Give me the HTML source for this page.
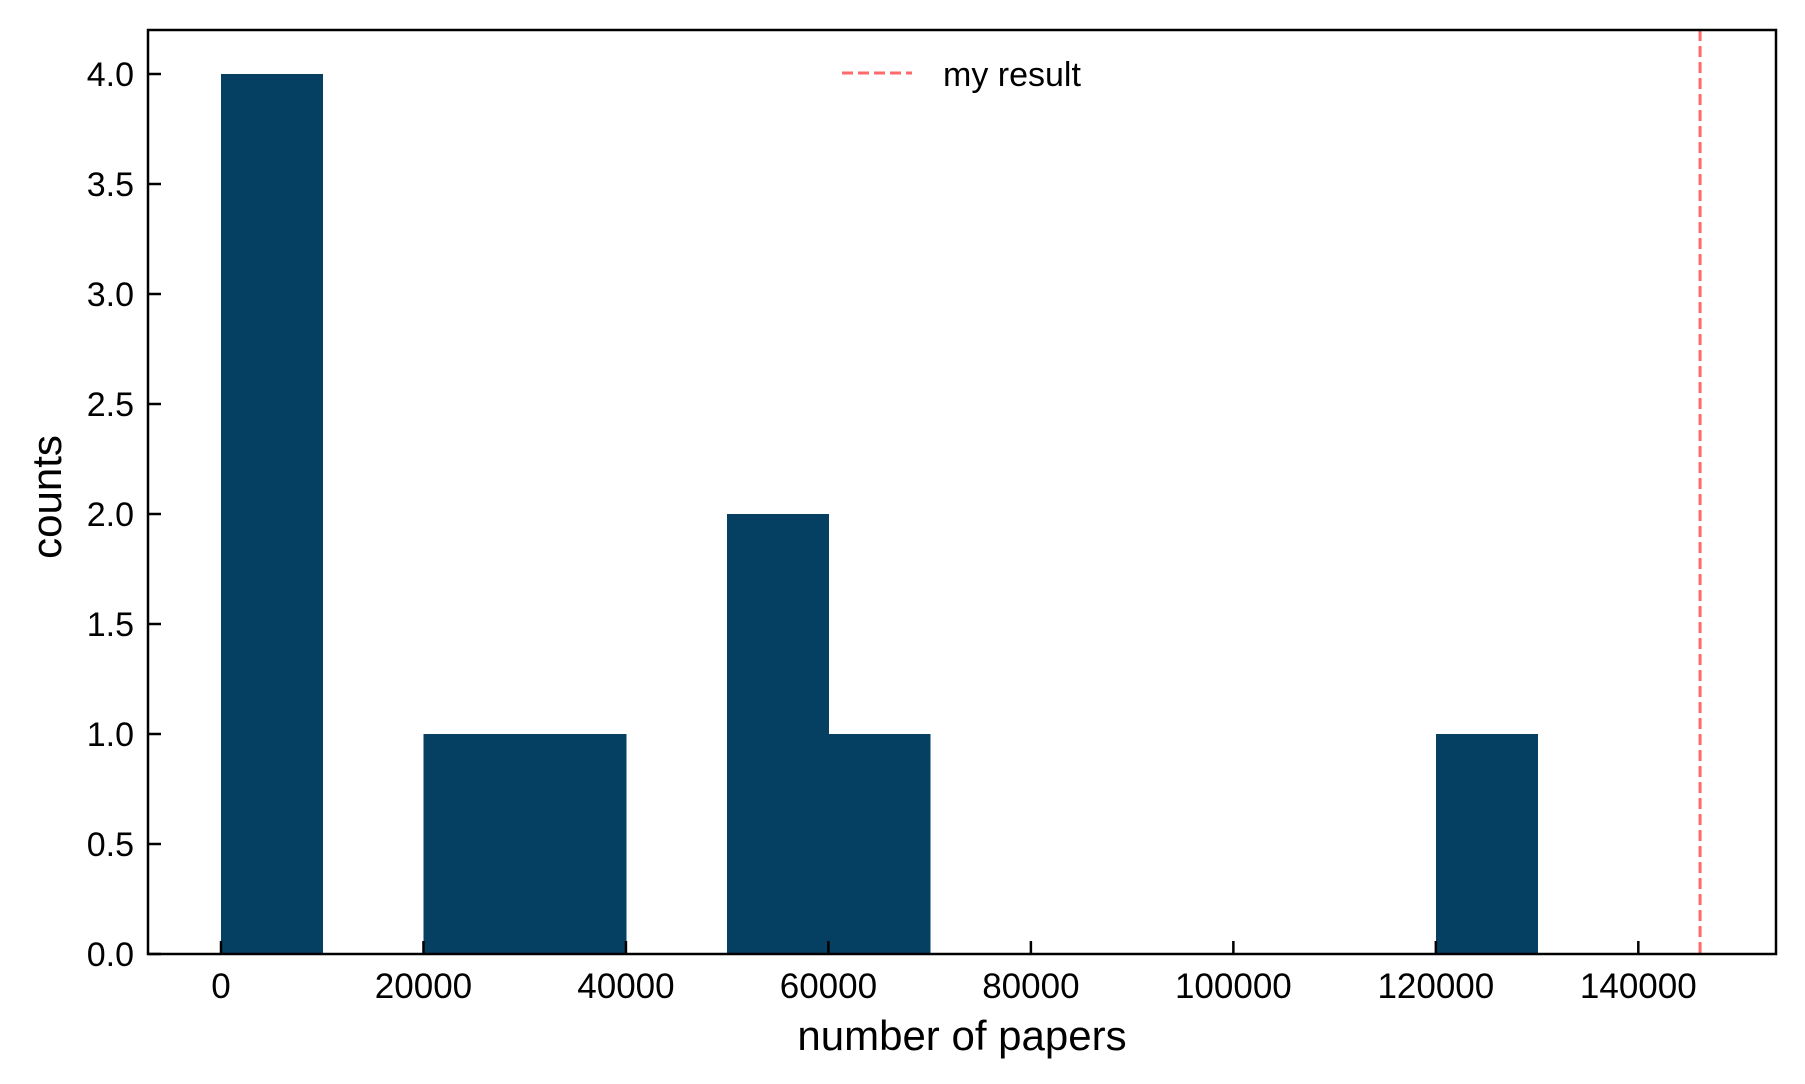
<!DOCTYPE html>
<html><head><meta charset="utf-8"><style>
html,body{margin:0;padding:0;background:#fff;}
svg{display:block;font-family:"Liberation Sans",Arial,sans-serif;}
</style></head><body>
<svg id="chart" width="1805" height="1084" viewBox="0 0 1805 1084" xmlns="http://www.w3.org/2000/svg"></svg>
<script>
const binEdges = [0,10000,20000,30000,40000,50000,60000,70000,80000,90000,100000,110000,120000,130000];
const binCounts = [4,0,1,1,0,2,1,0,0,0,0,0,1];
const xTicks = [0,20000,40000,60000,80000,100000,120000,140000];
const yTicks = [0,0.5,1,1.5,2,2.5,3,3.5,4];
const myResult = [146100];

const L=148,R=1776,T=30,B=954;
const xMin=-7210,xMax=153600,yMin=0,yMax=4.2;
const sx=v=>L+(v-xMin)/(xMax-xMin)*(R-L);
const sy=v=>B-(v-yMin)/(yMax-yMin)*(B-T);
const NS="http://www.w3.org/2000/svg";
const svg=document.getElementById('chart');
function mk(tag,attrs,parent){const e=document.createElementNS(NS,tag);for(const k in attrs)e.setAttribute(k,attrs[k]);(parent||svg).appendChild(e);return e;}

const bars=mk('g',{});


binCounts.forEach((c,i)=>{
  if(c<=0)return;
  const x0=sx(binEdges[i]),x1=sx(binEdges[i+1]);
  const r=mk('rect',{x:x0,y:sy(c),width:x1-x0+0.8,height:sy(0)-sy(c),fill:'#053f62','shape-rendering':'crispEdges'},bars);
  
  
});

myResult.forEach(v=>{
  const l=mk('line',{x1:sx(v),x2:sx(v),y1:T,y2:B,stroke:'#ff6a6a','stroke-width':3,'stroke-dasharray':'11,5'});
  
  
});

const frame=mk('rect',{x:L,y:T,width:R-L,height:B-T,fill:'none',stroke:'#000','stroke-width':2.5});



xTicks.forEach(v=>{
  const x=sx(v);
  const t=mk('line',{x1:x,x2:x,y1:B,y2:B-13,stroke:'#000','stroke-width':2.5});
  
  
  const tx=mk('text',{x:x,y:B+44,'font-size':35,'text-anchor':'middle',fill:'#000'});
  tx.textContent=String(v);
  
  
});
yTicks.forEach(v=>{
  const y=sy(v);
  const t=mk('line',{x1:L,x2:L+13,y1:y,y2:y,stroke:'#000','stroke-width':2.5});
  
  
  const tx=mk('text',{x:L-14,y:y+12,'font-size':34,'text-anchor':'end',fill:'#000'});
  tx.textContent=v.toFixed(1);
  
  
});

const xl=mk('text',{x:(L+R)/2,y:1050,'font-size':42,'text-anchor':'middle',fill:'#000'});
xl.textContent='number of papers';


const yl=mk('text',{x:0,y:0,'font-size':42,'text-anchor':'middle',fill:'#000',transform:'translate(61,497) rotate(-90)'});
yl.textContent='counts';



const lg=mk('g',{});


mk('line',{x1:842,x2:912,y1:73,y2:73,stroke:'#ff6a6a','stroke-width':3,'stroke-dasharray':'11,5'},lg);
const lt=mk('text',{x:943,y:86,'font-size':34,fill:'#000'},lg);
lt.textContent='my result';
</script>
</body></html>
